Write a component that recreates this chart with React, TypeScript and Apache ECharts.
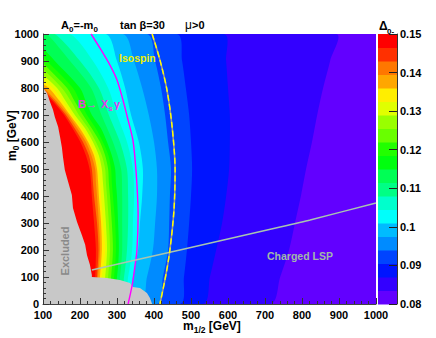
import React, { useEffect, useRef } from 'react';
import * as echarts from 'echarts';

// contour level edges of Delta_0- (20 bands)
const levelEdges = [0.08, 0.0835, 0.087, 0.0905, 0.094, 0.0975, 0.101, 0.1045, 0.108, 0.1115, 0.115,
  0.1185, 0.122, 0.1255, 0.129, 0.1325, 0.136, 0.1395, 0.143, 0.1465, 0.15];
const bandColors = ['#6200ff', '#3300ff', '#0014ff', '#0044ff', '#008bff', '#00bbff', '#00fffb', '#00ffcc',
  '#00ff85', '#00ff55', '#00ff0e', '#22ff00', '#69ff00', '#99ff00', '#e0ff00', '#ffee00', '#ffa700',
  '#ff7700', '#ff3000', '#ff0000'];

// contour boundaries [m1/2, m0], from top to bottom; region to the left has Delta above the level
const b1 = [[892, 1000], [876, 900], [857, 800], [841, 700], [827, 600], [811, 500], [797, 400], [781, 300], [765, 200], [741, 100], [714, 0]];
const b2 = [[589, 1000], [595, 900], [600, 800], [605, 700], [605, 600], [603, 500], [595, 400], [584, 300], [568, 200], [551, 100], [532, 0]];
const b3 = [[462, 1000], [476, 900], [486, 800], [495, 700], [500, 600], [503, 500], [500, 400], [495, 300], [489, 200], [481, 100], [470, 0]];
const b4 = [[381, 1000], [403, 900], [419, 800], [430, 700], [438, 600], [446, 500], [443, 400], [441, 300], [438, 200], [424, 100], [408, 0]];
const b5 = [[316, 1000], [346, 900], [368, 800], [386, 700], [400, 600], [408, 500], [408, 400], [403, 300], [397, 200], [381, 100], [362, 0]];
const b6 = [[270, 1000], [300, 900], [322, 800], [338, 700], [359, 600], [370, 500], [368, 400], [362, 300], [357, 200], [343, 100], [330, 0]];
const b7 = [[173, 1000], [235, 900], [276, 800], [300, 700], [327, 600], [343, 500], [346, 400], [343, 300], [341, 200], [330, 100], [316, 0]];
const b8 = [[132, 1000], [200, 900], [251, 800], [278, 700], [308, 600], [327, 500], [330, 400], [330, 300], [327, 200], [319, 100], [305, 0]];
const b9 = [[111, 1000], [173, 900], [230, 800], [258, 700], [289, 600], [311, 500], [314, 400], [314, 300], [314, 200], [308, 100], [295, 0]];
const b10 = [[100, 948], [132, 900], [200, 800], [216, 750], [232, 700], [257, 650], [273, 600], [286, 550], [295, 500], [297, 450], [300, 400], [303, 300], [305, 200], [300, 100], [286, 0]];
const b11 = [[100, 919], [111, 900], [181, 800], [200, 750], [219, 700], [243, 650], [262, 600], [277, 550], [284, 500], [286, 450], [289, 400], [295, 300], [297, 200], [292, 100], [281, 0]];
const b12 = [[100, 893], [165, 800], [186, 750], [208, 700], [232, 650], [254, 600], [268, 550], [276, 500], [278, 450], [281, 400], [286, 300], [289, 200], [284, 100], [276, 0]];
const b13 = [[100, 870], [151, 800], [176, 750], [197, 700], [223, 650], [243, 600], [259, 550], [268, 500], [270, 450], [273, 400], [278, 300], [281, 200], [276, 100], [268, 0]];
const b14 = [[100, 848], [138, 800], [162, 750], [186, 700], [214, 650], [235, 600], [251, 550], [259, 500], [262, 450], [265, 400], [270, 300], [273, 200], [268, 100], [259, 0]];
const b15 = [[100, 830], [127, 800], [154, 750], [178, 700], [205, 650], [227, 600], [243, 550], [251, 500], [254, 450], [257, 400], [262, 300], [268, 200], [259, 100], [254, 0]];
const b16 = [[100, 815], [116, 800], [146, 750], [173, 700], [200, 650], [222, 600], [238, 550], [246, 500], [249, 450], [251, 400], [257, 300], [259, 200], [254, 100], [249, 0]];
const b17 = [[100, 804], [138, 750], [168, 700], [193, 650], [216, 600], [231, 550], [241, 500], [243, 450], [246, 400], [251, 300], [254, 200], [249, 100], [246, 0]];
const b18 = [[100, 796], [132, 750], [162, 700], [186, 650], [208, 600], [224, 550], [232, 500], [235, 450], [238, 400], [246, 300], [250, 200], [246, 100], [243, 0]];
const b19 = [[100, 789], [127, 750], [157, 700], [180, 650], [201, 600], [216, 550], [226, 500], [230, 450], [232, 400], [238, 300], [243, 200], [241, 100], [238, 0]];
const contourBoundaries = [b1, b2, b3, b4, b5, b6, b7, b8, b9, b10, b11, b12, b13, b14, b15, b16, b17, b18, b19];

// excluded region outline [m1/2, m0]
const excludedEdge = [[100, 800], [111, 781], [119, 748], [127, 719], [132, 693], [141, 656], [146, 619], [151, 581],
  [154, 544], [159, 496], [165, 467], [178, 404], [181, 356], [192, 304], [205, 256], [214, 219], [219, 181],
  [227, 144], [232, 107], [232, 100], [273, 96], [308, 89], [335, 78], [343, 63], [362, 59], [381, 41],
  [389, 22], [395, 0], [100, 0]];

// constraint lines [m1/2, m0]
const bsgLine = [[230, 1000], [257, 941], [281, 885], [300, 830], [316, 756], [330, 681], [343, 607], [349, 533],
  [354, 441], [357, 330], [354, 200], [349, 144], [341, 70], [330, 0]];
const isospinLine = [[395, 1000], [416, 904], [435, 793], [449, 656], [457, 496], [454, 348], [443, 200], [432, 107], [416, 0]];
const chargedLspLine = [[232, 126], [470, 200], [741, 285], [822, 311], [1000, 374]];

const F = '"Liberation Sans", Arial, Helvetica, sans-serif';

function t(x: number, y: number, text: string, o: any = {}) {
  return {
    type: 'text', x, y, z: 20, silent: true,
    style: {
      text, fill: o.fill || '#000', fontSize: o.size || 11, fontWeight: o.weight || 'bold',
      fontFamily: F, align: o.align || 'left', verticalAlign: 'middle',
    },
  };
}

export default function App() {
  const ref = useRef<HTMLDivElement>(null);
  useEffect(() => {
    if (!ref.current) return;
    const chart = echarts.init(ref.current, undefined, { renderer: 'svg' });
    const polys = contourBoundaries.map((b) => [[100, 0], ...b.slice().reverse(), [100, b[0][1]]]);
    const axisLbl = { fontSize: 11, fontWeight: 'bold', color: '#000', fontFamily: F };
    const option: any = {
      animation: false,
      grid: [
        { left: 43, top: 34, width: 333, height: 270, show: true, backgroundColor: bandColors[0], borderWidth: 0 },
        { left: 378, top: 34, width: 19, height: 270, show: false },
      ],
      xAxis: [
        {
          type: 'value', gridIndex: 0, min: 100, max: 1000, interval: 100, position: 'bottom', z: 10,
          axisLine: { show: true, onZero: false, lineStyle: { color: '#444' } },
          axisTick: { show: true, inside: true, length: 6, lineStyle: { color: '#333' } },
          splitLine: { show: false }, axisLabel: { ...axisLbl, margin: 5, formatter: (v: number) => String(v) },
        },
        {
          type: 'value', gridIndex: 0, min: 100, max: 1000, interval: 20, position: 'bottom', z: 10,
          axisLine: { show: false, onZero: false }, axisTick: { show: true, inside: true, length: 3, lineStyle: { color: '#333' } },
          splitLine: { show: false }, axisLabel: { show: false },
        },
        { type: 'value', gridIndex: 1, min: 0, max: 1, show: false },
      ],
      yAxis: [
        {
          type: 'value', gridIndex: 0, min: 0, max: 1000, interval: 100, position: 'left', z: 10,
          axisLine: { show: true, onZero: false, lineStyle: { color: '#444' } },
          axisTick: { show: true, inside: true, length: 6, lineStyle: { color: '#333' } },
          splitLine: { show: false }, axisLabel: { ...axisLbl, margin: 4, formatter: (v: number) => String(v) },
        },
        {
          type: 'value', gridIndex: 0, min: 0, max: 1000, interval: 20, position: 'left', z: 10,
          axisLine: { show: false, onZero: false }, axisTick: { show: true, inside: true, length: 3, lineStyle: { color: '#333' } },
          splitLine: { show: false }, axisLabel: { show: false },
        },
        {
          type: 'value', gridIndex: 1, min: 0.08, max: 0.15, interval: 0.01, position: 'right', z: 10,
          axisLine: { show: true, onZero: false, lineStyle: { color: '#333' } },
          axisTick: { show: true, inside: true, length: 8, lineStyle: { color: '#222' } },
          splitLine: { show: false },
          axisLabel: { ...axisLbl, margin: 3, formatter: (v: number) => String(parseFloat(v.toFixed(3))) },
        },
      ],
      series: [
        {
          type: 'custom', xAxisIndex: 0, yAxisIndex: 0, z: 2, silent: true, clip: true,
          data: contourBoundaries.map(() => [100, 0]),
          renderItem: (params: any, api: any) => {
            const i = params.dataIndex;
            const tl = api.coord([100, 1000]);
            const br = api.coord([1000, 0]);
            return {
              type: 'polygon',
              shape: {
                points: polys[i].map((p) => api.coord(p)),
                smooth: 0.3,
                smoothConstraint: [[tl[0], tl[1]], [br[0], br[1]]],
              },
              style: { fill: bandColors[i + 1] },
            };
          },
        },
        {
          type: 'custom', xAxisIndex: 0, yAxisIndex: 0, z: 3, silent: true, clip: true,
          data: [[100, 0]],
          renderItem: (params: any, api: any) => ({
            type: 'polygon',
            shape: { points: excludedEdge.map((p) => api.coord(p)) },
            style: { fill: '#c8c8c8' },
          }),
        },
        {
          type: 'line', xAxisIndex: 0, yAxisIndex: 0, z: 4, silent: true, showSymbol: false, smooth: 0.3,
          data: bsgLine, lineStyle: { color: '#ff00ff', width: 1.4 },
        },
        {
          type: 'line', xAxisIndex: 0, yAxisIndex: 0, z: 4, silent: true, showSymbol: false, smooth: 0.3,
          data: isospinLine, lineStyle: { color: '#9a9a9a', width: 1.6 },
        },
        {
          type: 'line', xAxisIndex: 0, yAxisIndex: 0, z: 5, silent: true, showSymbol: false, smooth: 0.3,
          data: isospinLine, lineStyle: { color: '#ffff00', width: 1.4, type: [6, 3] },
        },
        {
          type: 'line', xAxisIndex: 0, yAxisIndex: 0, z: 4, silent: true, showSymbol: false, smooth: 0.2,
          data: chargedLspLine, lineStyle: { color: '#a8c4b0', width: 1.4 },
        },
        {
          type: 'custom', xAxisIndex: 2, yAxisIndex: 2, z: 2, silent: true,
          data: bandColors.map((c, i) => [0.5, levelEdges[i]]),
          renderItem: (params: any, api: any) => {
            const i = params.dataIndex;
            const a = api.coord([0, levelEdges[i]]);
            const b = api.coord([1, levelEdges[i + 1]]);
            return {
              type: 'rect',
              shape: { x: a[0], y: b[1], width: b[0] - a[0], height: a[1] - b[1] + 0.5 },
              style: { fill: bandColors[i] },
            };
          },
        },
      ],
      graphic: [
        // title
        t(61, 25, 'A'), t(69, 29, '0', { size: 8 }), t(73.5, 25, '=-m'), t(93.5, 29, '0', { size: 8 }),
        t(120, 25, 'tan β=30'),
        t(185, 25, 'μ', { weight: 'normal', size: 12 }), t(192, 25, '>0'),
        // colour bar title
        t(379, 26, 'Δ', { size: 12 }), t(387, 31, '0-', { size: 8 }),
        // x title
        t(183, 326, 'm', { size: 12 }), t(193.7, 330, '1/2', { size: 8.5 }), t(205.5, 326, ' [GeV]', { size: 12 }),
        // y title
        {
          type: 'group', x: 12, y: 136, rotation: Math.PI / 2,
          children: [t(-25, 0, 'm', { size: 12 }), t(-14.3, 4, '0', { size: 8.5 }), t(-9.6, 0, ' [GeV]', { size: 12 })],
        },
        // annotations
        t(119, 58, 'Isospin', { fill: '#f0f000', size: 10.5 }),
        t(78, 104, 'B', { fill: '#e838e8', size: 11 }),
        t(86, 104, '→', { fill: '#e838e8', size: 11, weight: 'normal' }),
        t(101, 104, 'X', { fill: '#e838e8', size: 11 }),
        t(108.5, 108, 's', { fill: '#e838e8', size: 7.5 }),
        t(114, 104, 'γ', { fill: '#e838e8', size: 11 }),
        {
          type: 'group', x: 65, y: 251, rotation: Math.PI / 2,
          children: [t(0, 0, 'Excluded', { fill: '#8a8a8a', size: 11, align: 'center' })],
        },
        t(267, 256, 'Charged LSP', { fill: '#a2b8aa', size: 10.5 }),
      ],
    };
    chart.setOption(option);
    return () => chart.dispose();
  }, []);
  return (
    <div
      ref={ref}
      style={{ position: 'fixed', left: 0, top: 0, width: 436, height: 338, background: '#fff' }}
    />
  );
}
